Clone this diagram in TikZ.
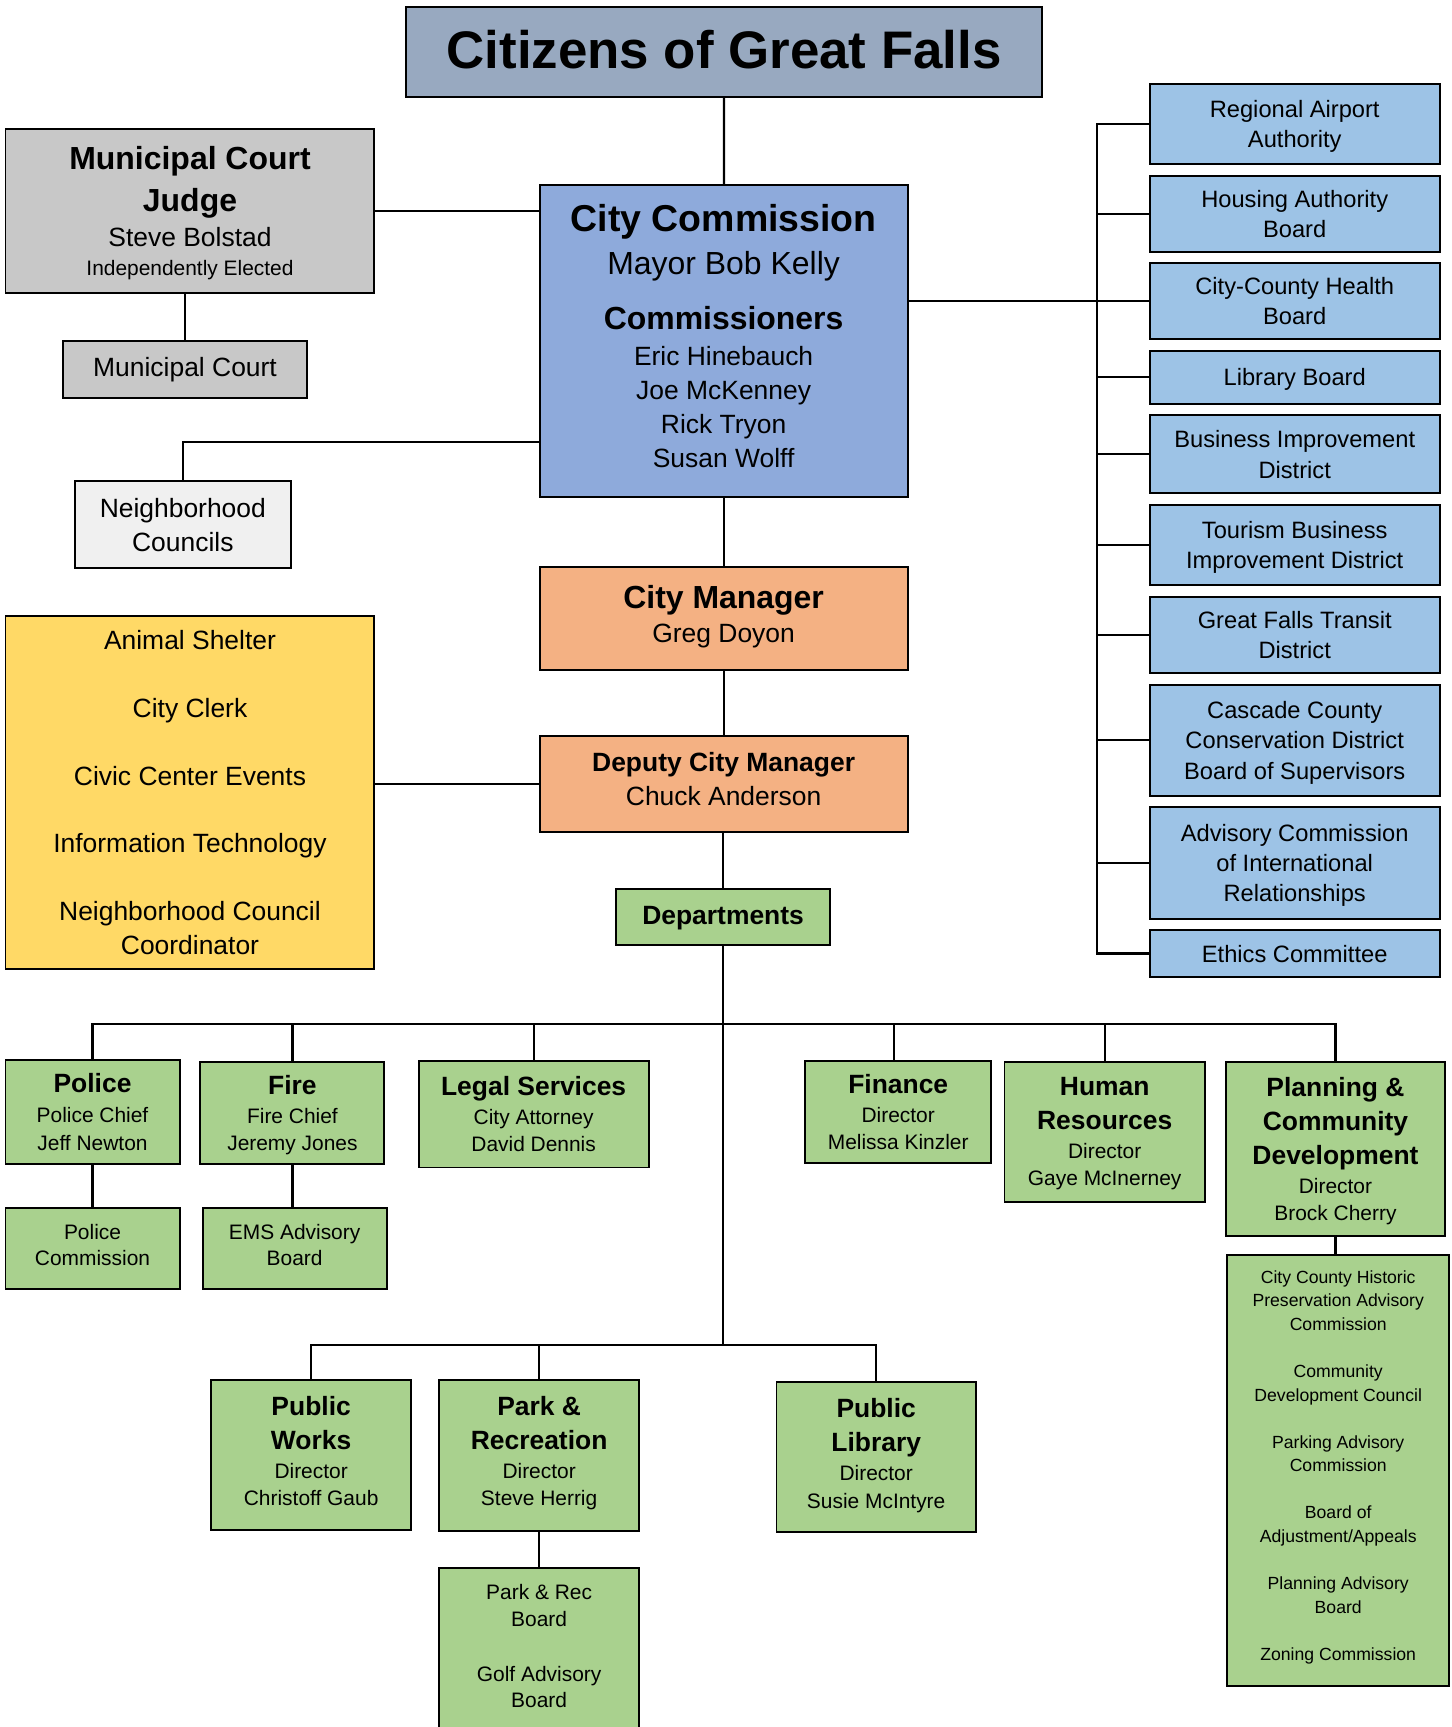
\documentclass[tikz,border=0pt]{standalone}
\usepackage{fontspec}
\setmainfont{Liberation Sans}
\usetikzlibrary{positioning}
\definecolor{citizenSlate}{RGB}{152, 169, 192}
\definecolor{courtGray}{RGB}{200, 200, 200}
\definecolor{councilGray}{RGB}{240, 240, 240}
\definecolor{commissionBlue}{RGB}{142, 170, 219}
\definecolor{managerOrange}{RGB}{244, 177, 131}
\definecolor{officeYellow}{RGB}{255, 217, 102}
\definecolor{deptGreen}{RGB}{169, 209, 142}
\definecolor{boardBlue}{RGB}{157, 195, 230}
\newcommand{\headBig}[1]{{\bfseries\fontsize{29}{31}\selectfont #1}}
\newcommand{\headDept}[1]{{\bfseries\fontsize{24}{31}\selectfont #1}}
\tikzset{
    % Base Block Style
    orgBox/.style={
        rectangle,
        draw=black,
        line width=1.8pt,
        align=center,
        inner sep=2pt,
        outer sep=0pt,
        text depth=0pt,
        font=\fontsize{24}{31}\selectfont
    },
    dims/.style 2 args={minimum width=#1pt, minimum height=#2pt},
    % Specific Role Styles
    orgCitizen/.style={orgBox, fill=citizenSlate},
    orgCourt/.style={orgBox, fill=courtGray},
    orgCouncil/.style={orgBox, fill=councilGray},
    orgCommission/.style={orgBox, fill=commissionBlue},
    orgManager/.style={orgBox, fill=managerOrange},
    orgOffice/.style={orgBox, fill=officeYellow, font=\fontsize{24}{30.7}\selectfont},
    orgDept/.style={orgBox, fill=deptGreen, font=\fontsize{19}{25}\selectfont},
    orgBoard/.style={orgBox, fill=boardBlue, font=\fontsize{21.5}{27.5}\selectfont},
    % Connector Style
    orgLine/.style={draw=black, line width=2pt}
}
\begin{document}
\begin{tikzpicture}[x=1pt, y=-1pt, node distance=10.5pt]
    \useasboundingbox (0,0) rectangle (1318,1568);

    % --- CENTRE COLUMN (Citizens down to Departments) ---
    \node (citizens) [orgCitizen, dims={577}{82}, text depth=4pt] at (657.5,47)
        {\bfseries\fontsize{48}{52}\selectfont Citizens of Great Falls};

    \node (commission) [orgCommission, dims={334}{283}, text depth=8.5pt] at (657,309.5) {
        {\bfseries\fontsize{34}{31}\selectfont City Commission}\\[8pt]
        {\fontsize{29}{31}\selectfont Mayor Bob Kelly}\\[19pt]
        \headBig{Commissioners}\\[1pt]
        Eric Hinebauch\\ Joe McKenney\\ Rick Tryon\\ Susan Wolff
    };

    \node (manager) [orgManager, dims={334}{93}, text depth=8pt] at (657,561.5) {
        \headBig{City Manager}\\ Greg Doyon
    };

    \node (deputy) [orgManager, dims={334}{87}, text depth=9pt] at (657,711.5) {
        \headDept{Deputy City Manager}\\ Chuck Anderson
    };

    \node (dept) [orgDept, dims={195}{51}, text depth=3pt] at (656.5,832.5) {\headDept{Departments}};

    % --- LEFT COLUMN (Court, Councils, Offices) ---
    \node (judge) [orgCourt, dims={335}{149}, font=\fontsize{24}{26}\selectfont] at (172.5,191.5) {
        \headBig{Municipal Court}\\[10pt]
        \headBig{Judge}\\[6pt]
        Steve Bolstad\\
        {\fontsize{19}{26}\selectfont Independently Elected}
    };

    \node (court) [orgCourt, dims={222}{51}, text depth=5pt] at (168,335.5) {Municipal Court};

    \node (council) [orgCouncil, dims={196}{79}] at (166,476.5) {
        Neighborhood\\ Councils
    };

    \node (offices) [orgOffice, dims={335}{321}, text depth=-4pt] at (172.5,719.5) {
        Animal Shelter\\[30.7pt]
        City Clerk\\[30.7pt]
        Civic Center Events\\[30.7pt]
        Information Technology\\[30.7pt]
        Neighborhood Council\\ Coordinator
    };

    % --- RIGHT COLUMN (Boards) ---
    \node (airport) [orgBoard, dims={263}{73}] at (1175.5,112.5) {Regional Airport\\ Authority};
    \node (housing) [orgBoard, dims={263}{69}, below=of airport] {Housing Authority\\ Board};
    \node (health) [orgBoard, dims={263}{69}, below=of housing] {City-County Health\\ Board};
    \node (libboard) [orgBoard, dims={263}{48}, below=of health] {Library Board};
    \node (bid) [orgBoard, dims={263}{71}, below=of libboard] {Business Improvement\\ District};
    \node (tbid) [orgBoard, dims={263}{73}, below=of bid] {Tourism Business\\ Improvement District};
    \node (transit) [orgBoard, dims={263}{69}, below=of tbid] {Great Falls Transit\\ District};
    \node (cascade) [orgBoard, dims={263}{101}, below=of transit] {Cascade County\\ Conservation District\\ Board of Supervisors};
    \node (intl) [orgBoard, dims={263}{101}, below=of cascade] {Advisory Commission\\ of International\\ Relationships};
    \node (ethics) [orgBoard, dims={263}{42.5}, below=of intl, text depth=-3pt] {Ethics Committee};

    % --- DEPARTMENTS (Upper Row) ---
    \node (police) [orgDept, dims={158}{95}, text depth=-3pt] at (84,1009.5) {
        \headDept{Police}\\[2pt] Police Chief\\ Jeff Newton
    };
    \node (fire) [orgDept, dims={167}{93}, text depth=-4pt] at (265.5,1010.5) {
        \headDept{Fire}\\[1pt] Fire Chief\\ Jeremy Jones
    };
    \node (legal) [orgDept, dims={209}{97}] at (484.5,1011.5) {
        \headDept{Legal Services}\\[1pt] City Attorney\\ David Dennis
    };
    \node (finance) [orgDept, dims={169}{93}, text depth=-4pt] at (815.5,1009.5) {
        \headDept{Finance}\\[1pt] Director\\ Melissa Kinzler
    };
    \node (hr) [orgDept, dims={182}{127}, text depth=-1pt] at (1003,1027.5) {
        \headDept{Human}\\[6pt] \headDept{Resources}\\[1pt] Director\\ Gaye McInerney
    };
    \node (planning) [orgDept, dims={199}{158}] at (1212.5,1043) {
        \headDept{Planning \&}\\[6pt] \headDept{Community}\\[6pt] \headDept{Development}\\[1pt]
        Director\\ Brock Cherry
    };

    % Sub-boards
    \node (policecomm) [orgDept, dims={158}{73}, text depth=6pt, font=\fontsize{19}{23.5}\selectfont, below=40pt of police] {
        Police\\ Commission
    };
    \node (ems) [orgDept, dims={167}{73}, text depth=6pt, font=\fontsize{19}{23.5}\selectfont] at (267.5,1133.5) {
        EMS Advisory\\ Board
    };
    \node (plansub) [orgDept, dims={202}{392}, text depth=9pt, font=\fontsize{16}{21.4}\selectfont] at (1215,1335) {
        City County Historic\\ Preservation Advisory\\ Commission\\[21.4pt]
        Community\\ Development Council\\[21.4pt]
        Parking Advisory\\ Commission\\[21.4pt]
        Board of\\ Adjustment/Appeals\\[21.4pt]
        Planning Advisory\\ Board\\[21.4pt]
        Zoning Commission
    };

    % --- DEPARTMENTS (Lower Row) ---
    \node (works) [orgDept, dims={181}{136}, text depth=7pt] at (282.5,1321) {
        \headDept{Public}\\[6pt] \headDept{Works}\\[1pt] Director\\ Christoff Gaub
    };
    \node (parkrec) [orgDept, dims={181}{137}, text depth=8pt] at (489.5,1321.5) {
        \headDept{Park \&}\\[6pt] \headDept{Recreation}\\[1pt] Director\\ Steve Herrig
    };
    \node (library) [orgDept, dims={181}{136}, text depth=7pt] at (795.5,1323) {
        \headDept{Public}\\[6pt] \headDept{Library}\\[1pt] Director\\ Susie McIntyre
    };
    \node (parksub) [orgDept, dims={181}{156}, text depth=15pt, font=\fontsize{19}{24}\selectfont, below=34pt of parkrec] {
        Park \& Rec\\ Board\\[26pt] Golf Advisory\\ Board
    };

    % --- Connectors ---
    \coordinate (spine) at (996,0);
    \coordinate (upperBus) at (655,930);
    \coordinate (lowerBus) at (655,1221);

    \draw [orgLine] (citizens) -- (commission);
    \draw [orgLine] (commission) -- (manager);
    \draw [orgLine] (manager) -- (deputy);
    \draw [orgLine] (dept.north) -- (dept.north |- deputy.south);

    \draw [orgLine] (judge.east) -- (judge.east -| commission.west);
    \draw [orgLine] (court.north) -- (court.north |- judge.south);
    \draw [orgLine] (council.north) |- ([yshift=50pt]commission.south west);
    \draw [orgLine] (deputy.west) -- (deputy.west -| offices.east);

    % boards hang off the spine
    \draw [orgLine] (health.west) -- (health.west -| commission.east);
    \draw [orgLine] (airport.west) -| (spine |- ethics.west) -- (ethics.west);
    \foreach \b in {housing, health, libboard, bid, tbid, transit, cascade, intl}
        \draw [orgLine] (\b.west) -- (\b.west -| spine);

    % department buses
    \draw [orgLine] (dept.south) -- (dept.south |- lowerBus);
    \draw [orgLine] (police.north) |- (planning.north |- upperBus) -- (planning.north);
    \foreach \d in {fire, legal, hr}
        \draw [orgLine] (\d.north) -- (\d.north |- upperBus);
    \draw [orgLine] ([xshift=-4pt]finance.north) -- ([xshift=-4pt]finance.north |- upperBus);
    \draw [orgLine] (works.north) |- (library.north |- lowerBus) -- (library.north);
    \draw [orgLine] (parkrec.north) -- (parkrec.north |- lowerBus);

    \draw [orgLine] (police) -- (policecomm);
    \draw [orgLine] (fire.south) -- (fire.south |- ems.north);
    \draw [orgLine] (planning) -- (planning |- plansub.north);
    \draw [orgLine] (parkrec) -- (parksub);

\end{tikzpicture}
\end{document}
